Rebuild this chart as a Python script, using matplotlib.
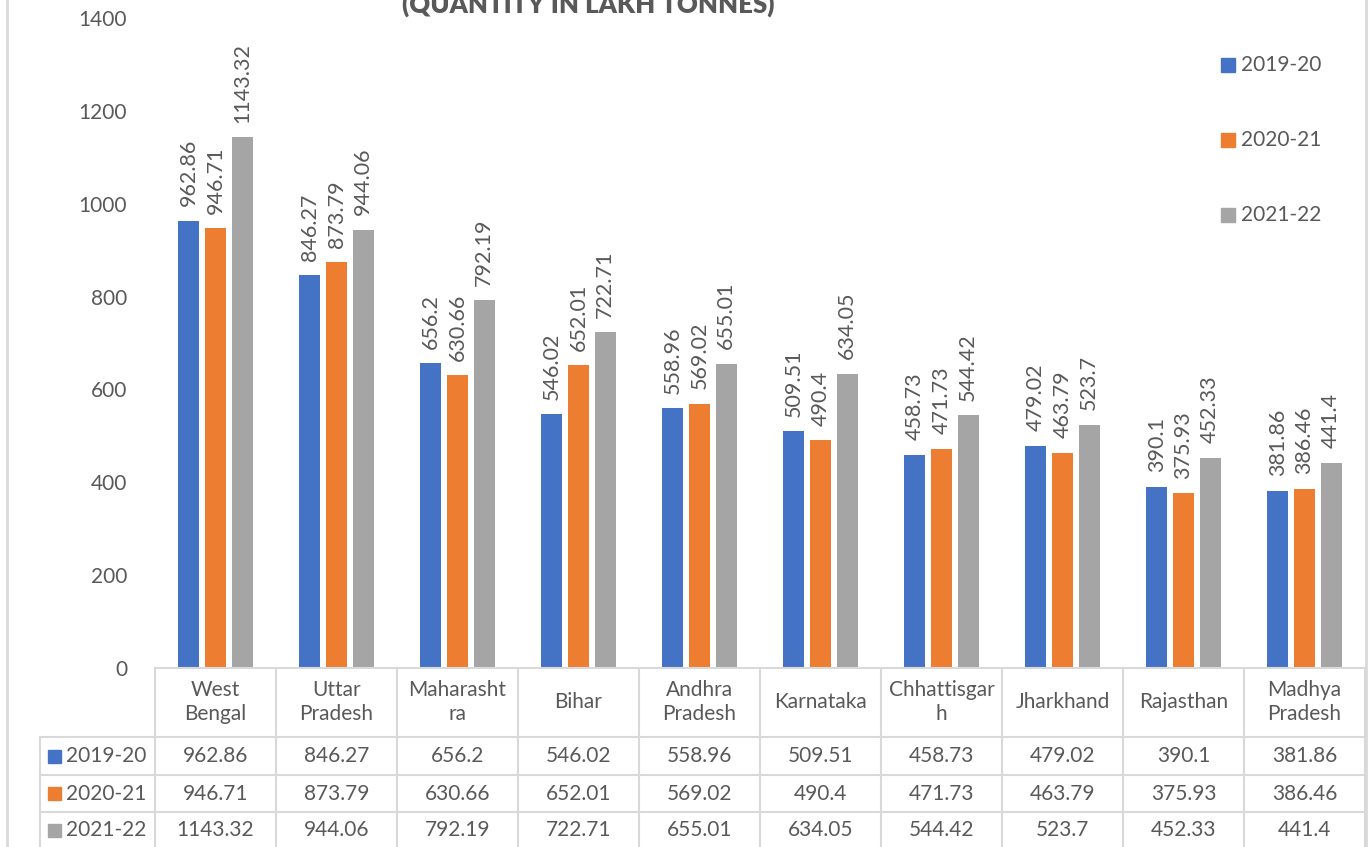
import matplotlib
matplotlib.use("Agg")
import matplotlib.pyplot as plt
from matplotlib.lines import Line2D
from matplotlib.patches import Rectangle
import matplotlib.transforms as mtrans

states = ["West\nBengal", "Uttar\nPradesh", "Maharasht\nra", "Bihar", "Andhra\nPradesh",
          "Karnataka", "Chhattisgar\nh", "Jharkhand", "Rajasthan", "Madhya\nPradesh"]
series_names = ["2019-20", "2020-21", "2021-22"]
v2019 = [962.86, 846.27, 656.2, 546.02, 558.96, 509.51, 458.73, 479.02, 390.1, 381.86]
v2020 = [946.71, 873.79, 630.66, 652.01, 569.02, 490.4, 471.73, 463.79, 375.93, 386.46]
v2021 = [1143.32, 944.06, 792.19, 722.71, 655.01, 634.05, 544.42, 523.7, 452.33, 441.4]
yticks = [0, 200, 400, 600, 800, 1000, 1200, 1400]

colors = ["#4472C4", "#ED7D31", "#A5A5A5"]
txt = "#595959"
gridc = "#D9D9D9"
FONT = "Lato"
FS = 15

W, H = 1372, 847
fig = plt.figure(figsize=(W / 100, H / 100), dpi=100)
plt.rcParams['font.family'] = [FONT, 'DejaVu Sans']

def fx(p):
    return p / W

def fy(p):
    return 1 - p / H

ax = fig.add_axes([fx(155), fy(668), fx(1365) - fx(155), fy(18) - fy(668)])
ax.set_xlim(-0.5, len(states) - 0.5)
ax.set_ylim(0, 1400)
for s in ax.spines.values():
    s.set_visible(False)
ax.set_xticks([])
ax.set_yticks(yticks)
ax.set_yticklabels([str(t) for t in yticks], fontsize=FS, color=txt, family=FONT)
ax.tick_params(axis='y', length=0, pad=20)

width = 0.175
offsets = [-0.22, 0.0, 0.22]
data = [v2019, v2020, v2021]
for k, vals in enumerate(data):
    xs = [i + offsets[k] for i in range(len(states))]
    ax.bar(xs, vals, width=width, color=colors[k], zorder=2)
    for x, v in zip(xs, vals):
        ax.annotate(f"{v:g}", (x, v), xytext=(0, 10.5), textcoords="offset points",
                    rotation=90, ha='center', va='bottom', fontsize=15.5, color=txt,
                    family=FONT)

# data table
bt = mtrans.blended_transform_factory(ax.transData, fig.transFigure)
n = len(states)
row_y = [668, 737, 775, 812]
fig.add_artist(Line2D([-0.5, n - 0.5], [fy(668), fy(668)], transform=bt, color=gridc, lw=1.5))
for yy in row_y[1:]:
    fig.add_artist(Line2D([fx(40), fx(155)], [fy(yy), fy(yy)], transform=fig.transFigure, color=gridc, lw=1.5))
    fig.add_artist(Line2D([-0.5, n - 0.5], [fy(yy), fy(yy)], transform=bt, color=gridc, lw=1.5))
for i in range(n + 1):
    fig.add_artist(Line2D([i - 0.5, i - 0.5], [fy(668), 0], transform=bt, color=gridc, lw=1.5))
fig.add_artist(Line2D([fx(40), fx(40)], [fy(737), 0], transform=fig.transFigure, color=gridc, lw=1.5))

for i, s in enumerate(states):
    fig.text(i, fy(702), s, transform=bt, ha='center', va='center', fontsize=FS,
             color=txt, linespacing=1.3)

row_centers = [756, 793.5, 830]
for k, (name, vals) in enumerate(zip(series_names, data)):
    yc = fy(row_centers[k])
    fig.add_artist(Rectangle((fx(48), yc - 6.5 / H), 13 / W, 13 / H, transform=fig.transFigure,
                             color=colors[k]))
    fig.text(fx(66), yc, name, ha='left', va='center', fontsize=FS, color=txt)
    for i, v in enumerate(vals):
        fig.text(i, yc, f"{v:g}", transform=bt, ha='center', va='center', fontsize=FS, color=txt)

# legend
leg_y = [65, 140, 215]
for k, name in enumerate(series_names):
    yc = fy(leg_y[k])
    fig.add_artist(Rectangle((fx(1221), yc - 7 / H), 14 / W, 14 / H, transform=fig.transFigure,
                             color=colors[k]))
    fig.text(fx(1241), yc, name, ha='left', va='center', fontsize=FS, color=txt)

# title (partially cut off at the top, as in the reference)
fig.text(fx(588), fy(12.5), "(QUANTITY IN LAKH TONNES)", ha='center', va='baseline',
         fontsize=18.5, fontweight='heavy', color=txt)

# chart border
for xb in [7, 1366]:
    fig.add_artist(Line2D([fx(xb), fx(xb)], [0, 1], transform=fig.transFigure, color=gridc, lw=2))

fig.savefig("out.png", dpi=100)
